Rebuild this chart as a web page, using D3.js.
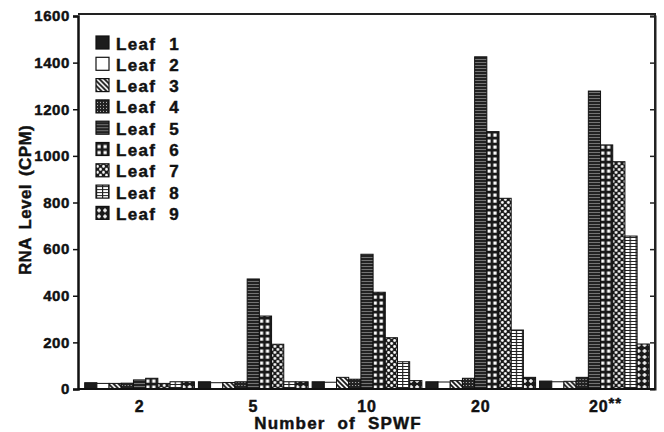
<!DOCTYPE html>
<html>
<head>
<meta charset="utf-8">
<script src="https://cdn.jsdelivr.net/npm/d3@7"></script>
<style>
  html, body { margin: 0; padding: 0; background: #fff; }
  svg { display: block; font-family: "Liberation Sans", Arial, Helvetica, sans-serif; font-weight: bold; }
  .heavy { stroke: #111; stroke-width: 0.45px; paint-order: stroke; }
</style>
</head>
<body>
<div id="chart"></div>
<script>
// data
const groups = ['2', '5', '10', '20', '20**'];
const leaves = ['Leaf 1', 'Leaf 2', 'Leaf 3', 'Leaf 4', 'Leaf 5', 'Leaf 6', 'Leaf 7', 'Leaf 8', 'Leaf 9'];
const values = [
  [27, 24, 24, 25, 39, 46, 24, 31, 31],          // 2
  [31, 27, 28, 31, 472, 313, 192, 31, 31],       // 5
  [31, 29, 50, 42, 578, 415, 220, 117, 36],      // 10
  [31, 30, 36, 46, 1425, 1104, 818, 253, 50],    // 20
  [34, 31, 33, 50, 1278, 1047, 975, 656, 193]    // 20**
];
const yTicks = [0, 200, 400, 600, 800, 1000, 1200, 1400, 1600];

const W = 664, H = 432;
const L = 78, R = 655, T = 14, B = 389;

const svg = d3.select('#chart').append('svg').attr('width', W).attr('height', H);
const defs = svg.append('defs');

// hatch patterns, one per leaf
function pat(id, w, h, draw) {
  const p = defs.append('pattern').attr('id', id).attr('patternUnits', 'userSpaceOnUse')
    .attr('width', w).attr('height', h);
  draw(p);
}
pat('p1', 4, 4, p => p.append('rect').attr('width', 4).attr('height', 4).attr('fill', '#1c1c1c'));
pat('p2', 4, 4, p => p.append('rect').attr('width', 4).attr('height', 4).attr('fill', '#fff'));
pat('p3', 5, 5, p => {
  p.append('rect').attr('width', 5).attr('height', 5).attr('fill', '#fff');
  p.append('path').attr('d', 'M-1,-1L6,6M-1,4L1,6M4,-1L6,1').attr('stroke', '#111').attr('stroke-width', 1.8);
});
pat('p4', 3, 3, p => {
  p.append('rect').attr('width', 3).attr('height', 3).attr('fill', '#222');
  p.append('rect').attr('x', 1).attr('y', 1).attr('width', 1).attr('height', 1).attr('fill', '#bbb');
});
pat('p5', 4, 3, p => {
  p.append('rect').attr('width', 4).attr('height', 3).attr('fill', '#222');
  p.append('rect').attr('y', 2).attr('width', 4).attr('height', 0.8).attr('fill', '#888');
});
pat('p6', 6, 6, p => {
  p.append('rect').attr('width', 6).attr('height', 6).attr('fill', '#1a1a1a');
  p.append('rect').attr('x', 1.5).attr('y', 1.5).attr('width', 3.2).attr('height', 3.2).attr('fill', '#fff');
});
pat('p7', 6, 6, p => {
  p.append('rect').attr('width', 6).attr('height', 6).attr('fill', '#1a1a1a');
  p.append('circle').attr('cx', 1.5).attr('cy', 1.5).attr('r', 1.4).attr('fill', '#fff');
  p.append('circle').attr('cx', 4.5).attr('cy', 4.5).attr('r', 1.4).attr('fill', '#fff');
});
pat('p8', 6, 3, p => {
  p.append('rect').attr('width', 6).attr('height', 3).attr('fill', '#fff');
  p.append('rect').attr('y', 0).attr('width', 6).attr('height', 1).attr('fill', '#222');
  p.append('rect').attr('x', 0).attr('width', 1.2).attr('height', 3).attr('fill', '#222');
});
pat('p9', 6, 6, p => {
  p.append('rect').attr('width', 6).attr('height', 6).attr('fill', '#1a1a1a');
  p.append('path').attr('d', 'M3,1V5M1,3H5').attr('stroke', '#fff').attr('stroke-width', 1.5);
});
const fills = leaves.map((d, i) => `url(#p${i + 1})`);

const x0 = d3.scaleBand().domain(groups).range([79, R]).paddingInner(0.035).paddingOuter(0.05);
const x1 = d3.scaleBand().domain(leaves).range([0, x0.bandwidth()]);
const y = d3.scaleLinear().domain([0, 1600]).range([B, T + 2]);

// bars
const rows = groups.map((g, gi) => leaves.map((l, li) => ({ g, l, li, v: values[gi][li] })));
svg.append('g').selectAll('g').data(rows).join('g')
  .attr('transform', d => `translate(${x0(d[0].g)},0)`)
  .selectAll('rect').data(d => d).join('rect')
  .attr('x', d => x1(d.l)).attr('y', d => y(d.v))
  .attr('width', x1.bandwidth()).attr('height', d => B - y(d.v))
  .attr('fill', d => fills[d.li]).attr('stroke', '#111').attr('stroke-width', 1);

// frame
svg.append('path').attr('d', `M${L},${T}H${R}V${B}`).attr('fill', 'none').attr('stroke', '#222').attr('stroke-width', 2);

// left axis
const ya = svg.append('g').attr('transform', `translate(${L},0)`)
  .call(d3.axisLeft(y).tickValues(yTicks).tickSize(5).tickPadding(3).tickFormat(d3.format('d')));
ya.select('.domain').attr('stroke', '#111').attr('stroke-width', 2.5);
ya.selectAll('.tick line').attr('stroke', '#111').attr('stroke-width', 1.5);
ya.selectAll('.tick text').attr('class', 'heavy').attr('font-size', 15).attr('font-family', null)
  .attr('letter-spacing', 0.6).attr('fill', '#111');

// right axis, ticks inward
const yr = svg.append('g').attr('transform', `translate(${R},0)`)
  .call(d3.axisLeft(y).tickValues(yTicks).tickSize(5).tickFormat(''));
yr.select('.domain').attr('stroke', '#222').attr('stroke-width', 2);
yr.selectAll('.tick line').attr('x2', -5).attr('stroke', '#222').attr('stroke-width', 1.5);

// bottom axis
const xa = svg.append('g').attr('transform', `translate(0,${B})`)
  .call(d3.axisBottom(x0).tickSize(0).tickPadding(12));
xa.select('.domain').attr('d', `M${L},0H${R}`).attr('stroke', '#111').attr('stroke-width', 2.2);
xa.selectAll('.tick text').attr('class', 'heavy').attr('font-size', 16).attr('font-family', null)
  .attr('letter-spacing', 0.8).attr('fill', '#111')
  .each(function (d) {
    if (d.endsWith('**')) {
      const t = d3.select(this).text('').attr('dx', 11);
      t.append('tspan').text(d.slice(0, -2));
      t.append('tspan').attr('dy', -4).attr('font-size', 15).text('**');
    }
  });

// axis titles
svg.append('text').attr('class', 'heavy').attr('x', 338).attr('y', 429).attr('text-anchor', 'middle')
  .attr('font-size', 17).attr('letter-spacing', 1.2).attr('word-spacing', 6).attr('fill', '#111')
  .text('Number of SPWF');
svg.append('text').attr('class', 'heavy').attr('transform', 'translate(31,200) rotate(-90)').attr('text-anchor', 'middle')
  .attr('font-size', 17).attr('letter-spacing', 0.4).attr('word-spacing', 3).attr('fill', '#111')
  .text('RNA Level (CPM)');

// legend
const lg = svg.append('g').selectAll('g').data(leaves).join('g')
  .attr('transform', (d, i) => `translate(96,${43 + i * 21.3})`);
lg.append('rect').attr('x', 0).attr('y', -7).attr('width', 13).attr('height', 13)
  .attr('fill', (d, i) => fills[i]).attr('stroke', '#111').attr('stroke-width', 1.2);
lg.append('text').attr('class', 'heavy').attr('x', 20).attr('y', 6.5).attr('font-size', 17).attr('letter-spacing', 1.3)
  .attr('word-spacing', 7).attr('fill', '#111').text(d => d);
</script>
</body>
</html>
